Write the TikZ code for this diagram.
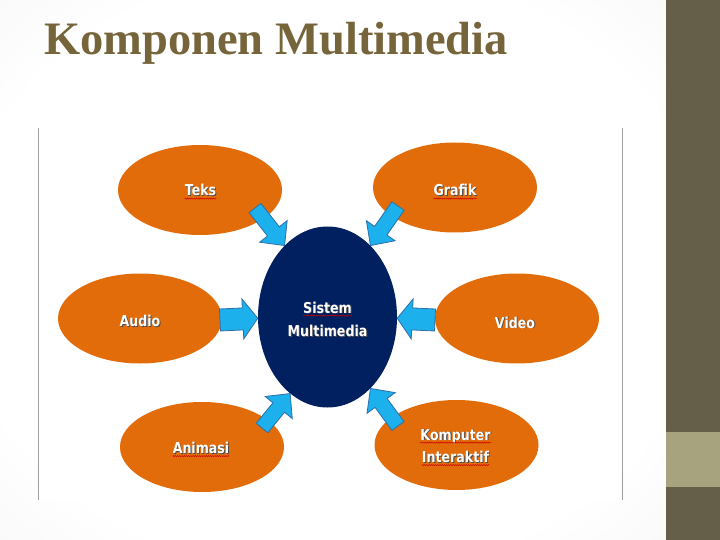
\documentclass[tikz,border=0pt]{standalone}
\usepackage{fontspec}
\usetikzlibrary{shapes.geometric,calc,decorations.pathmorphing}
\newfontfamily\ttlfont{Liberation Serif}
\newfontfamily\labfont[FakeStretch=0.84]{DejaVu Sans}
\definecolor{orng}{HTML}{E36C0A}
\definecolor{navy}{HTML}{002060}
\definecolor{abl}{HTML}{1CB0EC}
\definecolor{abd}{HTML}{2F6EA8}
\definecolor{ttlc}{HTML}{76653A}
\definecolor{barc}{HTML}{655E48}
\definecolor{barl}{HTML}{A6A37E}
\definecolor{framec}{HTML}{A0A0A0}
\pgfdeclareradialshading{vig}{\pgfpoint{0bp}{0bp}}{color(0bp)=(white);color(28bp)=(white);color(50bp)=(black!6);color(72bp)=(black!15)}
\newcommand\shtxt[1]{\rlap{\kern0.9pt\raisebox{-0.9pt}{\textcolor{black!70}{#1}}}#1}
\newcommand\blockarr[5]{%
  \path[barrow] let \p1=(#1), \p2=(#2),
    \n1={atan2(\y2-\y1,\x2-\x1)},
    \n2={veclen(\x2-\x1,\y2-\y1)-#5} in
    ($(\p1)+(\n1+90:#3)$) --
    ($(\p1)+(\n1:\n2)+(\n1+90:#3)$) --
    ($(\p1)+(\n1:\n2)+(\n1+90:#4)$) --
    (\p2) --
    ($(\p1)+(\n1:\n2)+(\n1-90:#4)$) --
    ($(\p1)+(\n1:\n2)+(\n1-90:#3)$) --
    ($(\p1)+(\n1-90:#3)$) -- cycle;}
\begin{document}
\begin{tikzpicture}[x=1pt,y=-1pt,
  ell/.style={ellipse, fill=orng, draw=none, inner sep=0pt, minimum width=164pt, minimum height=90pt},
  cenell/.style={ellipse, fill=navy, draw=none, inner sep=0pt, minimum width=139pt, minimum height=181pt},
  lab/.style={text=white, font=\labfont\bfseries\fontsize{15}{17}\selectfont, inner sep=0pt, anchor=base},
  barrow/.style={fill=abl, draw=abd, line width=0.8pt, line join=miter},
  squig/.style={draw=red!80!black, line width=0.45pt, decorate, decoration={snake, amplitude=0.6pt, segment length=2.2pt}}]
\useasboundingbox (0,0) rectangle (720,540);
% background
\fill[white] (0,0) rectangle (666,540);
\shade[shading=vig] (0,0) rectangle (666,540);
\fill[barc] (666,0) rectangle (720,540);
\fill[barl] (666,432) rectangle (720,487);
% title
\node[anchor=base west, inner sep=0pt, text=ttlc, font=\ttlfont\bfseries\fontsize{46.5}{50}\selectfont] (title) at (44,55) {Komponen Multimedia};
% picture frame
\fill[white] (38,128) rectangle (622,500);
\draw[framec, line width=1pt] (38,128) -- (38,500);
\draw[framec, line width=1pt] (622,128) -- (622,500);
% ellipses
\node[cenell] (cen) at (327.5,317) {};
\node[ell] (eteks) at (200,190) {};
\node[ell] (egraf) at (455,187.5) {};
\node[ell] (eaud) at (140,318.5) {};
\node[ell] (evid) at (517,318.5) {};
\node[ell] (eani) at (202,447) {};
\node[ell] (ekom) at (456.5,445) {};
% arrow tails
\coordinate (t1) at (255,208);
\coordinate (t2) at (398,206);
\coordinate (t3) at (220,320);
\coordinate (t4) at (435,320);
\coordinate (t5) at (262,428);
\coordinate (t6) at (398,426);
\blockarr{t1}{cen.121}{7.5pt}{17.5pt}{18pt}
\blockarr{t2}{cen.59}{7.5pt}{17.5pt}{18pt}
\blockarr{t3}{cen.181}{11pt}{20pt}{15pt}
\blockarr{t4}{cen.359}{11pt}{20pt}{15pt}
\blockarr{t5}{cen.244}{7.5pt}{17.5pt}{18pt}
\blockarr{t6}{cen.301.5}{7.5pt}{17.5pt}{18pt}
% labels
\node[lab] (teks) at (200.5,196) {\shtxt{Teks}};
\node[lab] (graf) at (455,196) {\shtxt{Grafik}};
\node[lab] (aud) at (140,326.5) {\shtxt{Audio}};
\node[lab] (vid) at (515,328) {\shtxt{Video}};
\node[lab] (sis) at (327.5,313) {\shtxt{Sistem}};
\node[lab] (mm) at (327.5,336.5) {\shtxt{Multimedia}};
\node[lab] (ani) at (201,453.5) {\shtxt{Animasi}};
\node[lab] (kom) at (455.5,440) {\shtxt{Komputer}};
\node[lab] (inter) at (455.5,462.5) {\shtxt{Interaktif}};
% spelling squiggles
\foreach \n in {teks,graf,sis,ani,kom,inter}
  \path[squig] ($(\n.base west)+(0,2.6)$) -- ($(\n.base east)+(0,2.6)$);
\end{tikzpicture}
\end{document}
